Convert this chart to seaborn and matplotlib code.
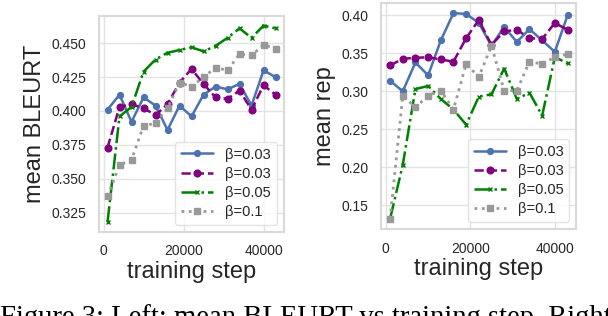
import matplotlib
matplotlib.use("Agg")
import matplotlib.pyplot as plt
import matplotlib.ticker as mticker
import seaborn as sns
import numpy as np

steps = [1000, 4000, 7000, 10000, 13000, 16000, 19000, 22000, 25000,
         28000, 31000, 34000, 37000, 40000, 43000]

labels = ["β=0.03", "β=0.03", "β=0.05", "β=0.1"]

bleurt_blue = [0.401, 0.412, 0.392, 0.410, 0.404, 0.386, 0.404, 0.396, 0.412,
               0.418, 0.416, 0.420, 0.404, 0.430, 0.425]
bleurt_purple = [0.373, 0.403, 0.405, 0.402, 0.397, 0.405, 0.421, 0.431, 0.420,
                 0.410, 0.409, 0.415, 0.401, 0.419, 0.412]
bleurt_green = [0.318, 0.396, 0.403, 0.429, 0.438, 0.443, 0.445, 0.447, 0.444,
                0.448, 0.454, 0.461, 0.454, 0.463, 0.461]
bleurt_gray = [0.337, 0.360, 0.364, 0.389, 0.391, 0.402, 0.421, 0.418, 0.425,
               0.432, 0.430, 0.442, 0.441, 0.449, 0.446]

rep_blue = [0.314, 0.300, 0.338, 0.321, 0.367, 0.403, 0.402, 0.390, 0.360,
            0.385, 0.365, 0.382, 0.367, 0.352, 0.400]
rep_purple = [0.334, 0.343, 0.344, 0.345, 0.342, 0.339, 0.370, 0.394, 0.361,
              0.379, 0.381, 0.370, 0.369, 0.390, 0.381]
rep_green = [0.132, 0.203, 0.303, 0.307, 0.290, 0.276, 0.256, 0.293, 0.296,
             0.330, 0.290, 0.298, 0.268, 0.345, 0.337]
rep_gray = [0.132, 0.294, 0.279, 0.294, 0.301, 0.276, 0.336, 0.319, 0.360,
            0.301, 0.301, 0.339, 0.336, 0.345, 0.349]

sns.set_theme(style="whitegrid")
plt.rcParams["font.family"] = ["Liberation Sans", "DejaVu Sans"]
plt.rcParams["axes.edgecolor"] = "#d9d9d9"
plt.rcParams["axes.linewidth"] = 1.5
plt.rcParams["grid.color"] = "#e3e3e3"

styles = [
    dict(color="#4c72b0", linestyle="-", marker="o", markersize=4.2, linewidth=1.8),
    dict(color="purple", linestyle="--", marker="o", markersize=4.8, linewidth=1.8),
    dict(color="green", linestyle="-.", marker="x", markersize=3.5, linewidth=1.8),
    dict(color="#999999", linestyle=":", marker="s", markersize=4.8, linewidth=2.0),
]

fig = plt.figure(figsize=(6.08, 3.16), dpi=100)
ax1 = fig.add_axes([0.163, 0.266, 0.304, 0.684])
ax2 = fig.add_axes([0.627, 0.275, 0.321, 0.716])


def draw(ax, series, ylabel, ystep):
    for vals, lab, st in zip(series, labels, styles):
        sns.lineplot(x=steps, y=vals, ax=ax, label=lab,
                     markeredgecolor=st["color"], markeredgewidth=1.0, **st)
    ax.set_xlabel("training step", fontsize=17, color="#262626", labelpad=2)
    ax.set_ylabel(ylabel, fontsize=17, color="#262626")
    ax.xaxis.set_major_locator(mticker.MultipleLocator(20000))
    ax.yaxis.set_major_locator(mticker.MultipleLocator(ystep))
    ax.tick_params(labelsize=10, colors="#262626", pad=3)
    leg = ax.legend(loc="lower right", fontsize=10.5, labelspacing=0.35,
                    handlelength=2.2, borderpad=0.4, framealpha=0.8)
    leg.get_frame().set_edgecolor("#dddddd")


draw(ax1, [bleurt_blue, bleurt_purple, bleurt_green, bleurt_gray], "mean BLEURT", 0.025)
ax1.yaxis.set_major_formatter(mticker.FormatStrFormatter("%.3f"))
draw(ax2, [rep_blue, rep_purple, rep_green, rep_gray], "mean rep", 0.05)
ax2.yaxis.set_major_formatter(mticker.FormatStrFormatter("%.2f"))

# Caption of the source figure, cut off at the bottom edge as in the reference
fig.text(0.0, -0.027, "Figure 3: Left: mean BLEURT vs training step. Right: mean rep",
         family=["Liberation Serif", "DejaVu Serif"], fontsize=20.6, va="baseline",
         ha="left", color="black")

fig.savefig("out.png", dpi=100)
